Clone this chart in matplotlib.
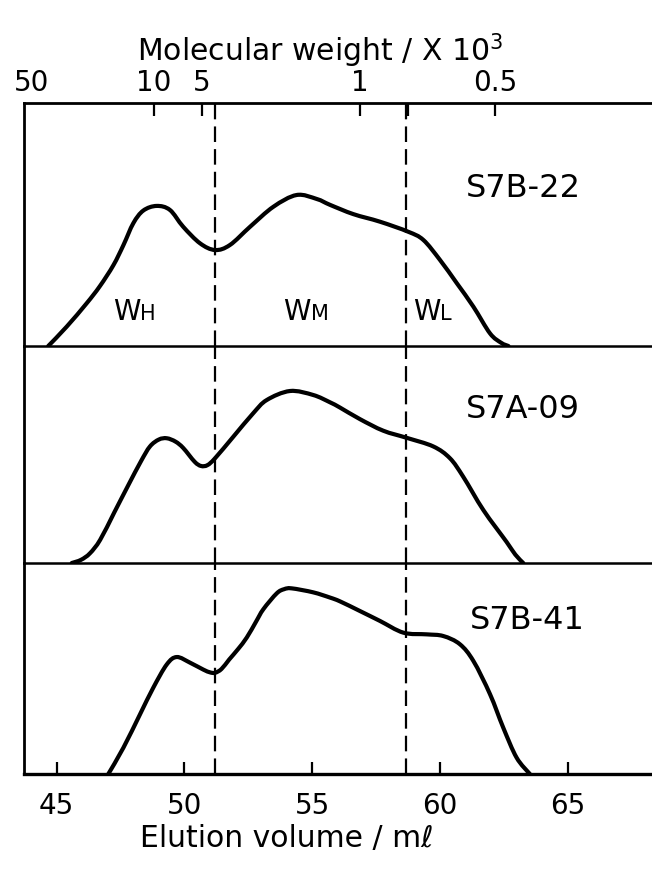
import matplotlib.pyplot as plt
from matplotlib.path import Path
from matplotlib.patches import PathPatch

# GPC elution profiles, elution volume (ml) vs. detector response
s7b22_ml = [44.67, 45.39, 46.17, 46.69, 47.22, 47.61, 48.0, 48.39, 48.91, 49.43,
            49.95, 50.61, 51.2, 51.78, 52.57, 53.48, 54.39, 55.18, 55.70, 56.61,
            57.65, 58.76, 59.35, 60.0, 60.66, 61.31, 61.96, 62.4, 62.68]
s7b22_resp = [0, 0.092, 0.203, 0.285, 0.385, 0.48, 0.585, 0.645, 0.667, 0.648,
              0.568, 0.489, 0.457, 0.481, 0.568, 0.663, 0.719, 0.700, 0.672, 0.628,
              0.592, 0.544, 0.505, 0.41, 0.299, 0.187, 0.06, 0.015, 0]

s7a09_ml = [45.59, 45.95, 46.30, 46.70, 47.25, 47.80, 48.30, 48.65, 49.0, 49.31,
            49.65, 49.95, 50.40, 50.65, 50.90, 51.2, 51.91, 52.69, 53.22, 54.13,
            55.04, 55.70, 56.09, 56.87, 57.78, 58.70, 59.74, 60.39, 60.91, 61.70,
            62.61, 62.95, 63.26]
s7a09_resp = [0, 0.015, 0.046, 0.11, 0.24, 0.37, 0.485, 0.555, 0.588, 0.594,
              0.578, 0.548, 0.482, 0.462, 0.466, 0.499, 0.601, 0.713, 0.776, 0.819,
              0.800, 0.765, 0.740, 0.685, 0.630, 0.596, 0.555, 0.499, 0.411, 0.252,
              0.10, 0.04, 0]

s7b41_ml = [47.02, 47.61, 48.26, 48.78, 49.31, 49.70, 50.22, 50.74, 51.0, 51.2,
            51.45, 51.75, 52.1, 52.44, 52.8, 53.09, 53.61, 53.90, 54.20, 55.04,
            55.70, 56.09, 56.87, 57.65, 58.57, 59.48, 60.13, 60.78, 61.31, 61.96,
            62.48, 63.0, 63.52]
s7b41_resp = [0, 0.125, 0.284, 0.411, 0.522, 0.557, 0.530, 0.497, 0.484, 0.482,
              0.500, 0.545, 0.595, 0.650, 0.725, 0.785, 0.860, 0.880, 0.884, 0.865,
              0.840, 0.822, 0.776, 0.729, 0.673, 0.665, 0.657, 0.618, 0.538, 0.380,
              0.220, 0.078, 0]

sample_names = ["S7B-22", "S7A-09", "S7B-41"]

# bottom scale and molecular weight calibration on top
elution_ticks = [45, 50, 55, 60, 65]
mw_tick_ml = [48.81, 50.69, 56.87, 58.74, 62.16]
mw_tick_labels = ["10", "5", "1", "", "0.5"]
mw_edge_ml = [44.0]
mw_edge_labels = ["50"]

# fraction boundaries W_H / W_M / W_L
cut_ml = [51.2, 58.67]

profiles = [(s7b22_ml, s7b22_resp), (s7a09_ml, s7a09_resp), (s7b41_ml, s7b41_resp)]


def smooth_path(x, y):
    # Catmull-Rom through the points, written as cubic Bezier segments
    pts = list(zip(x, y))
    pts = [pts[0]] + pts + [pts[-1]]
    verts = [pts[1]]
    codes = [Path.MOVETO]
    for k in range(1, len(pts) - 2):
        p0, p1, p2, p3 = pts[k - 1], pts[k], pts[k + 1], pts[k + 2]
        c1 = (p1[0] + (p2[0] - p0[0]) / 6, p1[1] + (p2[1] - p0[1]) / 6)
        c2 = (p2[0] - (p3[0] - p1[0]) / 6, p2[1] - (p3[1] - p1[1]) / 6)
        verts += [c1, c2, p2]
        codes += [Path.CURVE4] * 3
    return Path(verts, codes)


W, H = 652, 869
panel_px = [243, 217, 211]
unit_px = 210.0
xlim = (43.72, 68.30)

fig = plt.figure(figsize=(W / 100, H / 100), dpi=100)
gs = fig.add_gridspec(3, 1, height_ratios=panel_px, hspace=0,
                      left=24 / W, right=1.0, top=1 - 103 / H, bottom=1 - 774 / H)
axes = [fig.add_subplot(gs[i]) for i in range(3)]

fs_tick = 20
label_y = [0.752, 0.729, 0.733]
label_x = [63.25, 63.25, 63.41]
for i, ax in enumerate(axes):
    ax.patch.set_visible(False)
    x, y = profiles[i]
    ax.add_patch(PathPatch(smooth_path(x, y), facecolor="none", edgecolor="black",
                           lw=3.0, joinstyle="round", capstyle="round", zorder=3))
    for c in cut_ml:
        ax.axvline(c, color="black", lw=1.6, dashes=(7, 3.2), zorder=2)
    ax.set_xlim(*xlim)
    ax.set_ylim(0, panel_px[i] / unit_px)
    ax.set_yticks([])
    ax.spines["right"].set_visible(False)
    ax.spines["left"].set_linewidth(2.0)
    ax.spines["bottom"].set_linewidth(1.8)
    ax.spines["top"].set_visible(i == 0)
    ax.tick_params(axis="x", which="both", bottom=False, labelbottom=False,
                   top=False, labeltop=False)
    ax.text(label_x[i], label_y[i], sample_names[i],
            ha="center", va="center", fontsize=23)

# top panel: molecular weight scale
top = axes[0]
top.spines["top"].set_linewidth(2.0)
top.set_xticks(mw_tick_ml, labels=mw_tick_labels)
top.set_xticks(mw_edge_ml, labels=mw_edge_labels, minor=True)
top.tick_params(axis="x", which="major", top=True, labeltop=True, direction="in",
                length=9, width=1.6, pad=4, labelsize=fs_tick)
top.tick_params(axis="x", which="minor", top=False, labeltop=True, length=0,
                pad=4, labelsize=fs_tick)
fig.text(320 / W, 1 - 51 / H, "Molecular weight / X 10$^{3}$", ha="center",
         va="center", fontsize=21.5)

# fraction labels, capital with a smaller trailing letter
base = 26 / unit_px
for big_x, small_x, small in [(47.21, 48.26, "H"), (53.86, 54.96, "M"),
                              (58.95, 60.01, "L")]:
    top.text(big_x, base, "W", fontsize=20, ha="left", va="baseline")
    top.text(small_x, base, small, fontsize=15, ha="left", va="baseline")

# bottom panel: elution volume scale
bot = axes[2]
bot.spines["bottom"].set_linewidth(2.4)
bot.set_xticks(elution_ticks)
bot.tick_params(axis="x", which="major", bottom=True, labelbottom=True,
                direction="in", length=9, width=1.6, pad=13, labelsize=fs_tick)
fig.text(287 / W, 1 - 838 / H, "Elution volume / m\u2113", ha="center",
         va="center", fontsize=21.5)

fig.savefig("out.png", dpi=100)
